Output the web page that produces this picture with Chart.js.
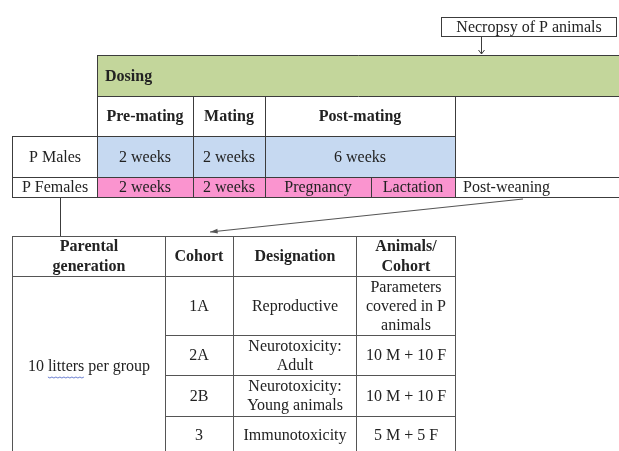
<!DOCTYPE html>
<html>
<head>
<meta charset="utf-8">
<script src="https://cdn.jsdelivr.net/npm/chart.js@4.4.0/dist/chart.umd.min.js"></script>
<style>
  html, body { margin: 0; padding: 0; background: #ffffff; }
  #wrap { width: 619px; height: 451px; }
</style>
</head>
<body>
<div id="wrap"><canvas id="c" width="619" height="451"></canvas></div>
<script>
// ---------- DATA (text content of the study design diagram) ----------
const necropsyLabel = 'Necropsy of P animals';
const dosingLabel = 'Dosing';
const phases = ['Pre-mating', 'Mating', 'Post-mating'];
const groups = ['P Males', 'P Females'];
const maleDurations = ['2 weeks', '2 weeks', '6 weeks'];
const femaleStages = ['2 weeks', '2 weeks', 'Pregnancy', 'Lactation'];
const femaleAfter = 'Post-weaning';
const tableHeaders = [['Parental', 'generation'], ['Cohort'], ['Designation'], ['Animals/', 'Cohort']];
const parentalGeneration = '10 litters per group';
const cohorts = ['1A', '2A', '2B', '3'];
const designations = [['Reproductive'], ['Neurotoxicity:', 'Adult'], ['Neurotoxicity:', 'Young animals'], ['Immunotoxicity']];
const animalsPerCohort = [['Parameters', 'covered in P', 'animals'], ['10 M + 10 F'], ['10 M + 10 F'], ['5 M + 5 F']];

// ---------- LAYOUT (grid units on the chart's linear scales) ----------
const GRID = {
  xLabel: 12, xPre: 97, xMating: 193, xPost: 265, xPreg: 371, xEnd: 455, xRight: 619,
  necX0: 441, necX1: 616, necY0: 17, necY1: 36, necArrowX: 481,
  yDose0: 55, yDose1: 96, yPhase1: 136, yMale1: 177, yFem1: 197,
  tX: [12, 165, 233, 356, 455], tY: [236, 276, 335, 375, 416, 470],
  vLineX: 60, arrowFrom: [523, 199], arrowTo: [210, 232]
};
const COLORS = { green: '#c3d69b', blue: '#c6d9f1', pink: '#fa94cf', line: '#3c3c3c', text: '#222222', grid: '#555555' };
const FONT = '"Liberation Serif", "Times New Roman", serif';

const diagramPlugin = {
  id: 'diagram',
  afterDraw(chart) {
    const ctx = chart.ctx;
    const xs = chart.scales.x, ys = chart.scales.y;
    const X = v => Math.round(xs.getPixelForValue(v));
    const Y = v => Math.round(ys.getPixelForValue(v));
    const G = GRID;

    function rect(x0, y0, x1, y1, fill) {
      ctx.fillStyle = fill;
      ctx.fillRect(X(x0), Y(y0), X(x1) - X(x0), Y(y1) - Y(y0));
    }
    function hline(x0, x1, y, color) {
      ctx.strokeStyle = color || COLORS.line; ctx.lineWidth = 1;
      ctx.beginPath(); ctx.moveTo(X(x0), Y(y) + 0.5); ctx.lineTo(X(x1) + 1, Y(y) + 0.5); ctx.stroke();
    }
    function vline(x, y0, y1, color) {
      ctx.strokeStyle = color || COLORS.line; ctx.lineWidth = 1;
      ctx.beginPath(); ctx.moveTo(X(x) + 0.5, Y(y0)); ctx.lineTo(X(x) + 0.5, Y(y1) + 1); ctx.stroke();
    }
    function text(str, x, y, opts) {
      opts = opts || {};
      ctx.font = (opts.bold ? 'bold ' : '') + (opts.size || 16) + 'px ' + FONT;
      ctx.fillStyle = COLORS.text;
      ctx.textAlign = opts.align || 'center';
      ctx.textBaseline = 'middle';
      ctx.fillText(str, X(x), Y(y) + 1);
    }
    function lines(arr, cx, cy, lh, opts) {
      const start = cy - (arr.length - 1) * lh / 2;
      arr.forEach((s, i) => text(s, cx, start + i * lh, opts));
    }

    ctx.save();
    // Necropsy box + arrow
    ctx.strokeStyle = COLORS.line; ctx.lineWidth = 1;
    ctx.strokeRect(X(G.necX0) + 0.5, Y(G.necY0) + 0.5, X(G.necX1) - X(G.necX0), Y(G.necY1) - Y(G.necY0));
    text(necropsyLabel, (G.necX0 + G.necX1) / 2, (G.necY0 + G.necY1) / 2);
    vline(G.necArrowX, G.necY1 + 1, G.yDose0 - 2);
    ctx.beginPath();
    ctx.moveTo(X(G.necArrowX) + 0.5, Y(G.yDose0 - 1));
    ctx.lineTo(X(G.necArrowX) - 2.5, Y(G.yDose0 - 5));
    ctx.moveTo(X(G.necArrowX) + 0.5, Y(G.yDose0 - 1));
    ctx.lineTo(X(G.necArrowX) + 3.5, Y(G.yDose0 - 5));
    ctx.stroke();

    // Fills
    rect(G.xPre, G.yDose0, G.xRight, G.yDose1, COLORS.green);
    rect(G.xPre, G.yPhase1, G.xEnd, G.yMale1, COLORS.blue);
    rect(G.xPre, G.yMale1, G.xEnd, G.yFem1, COLORS.pink);

    // Grid lines of the schedule
    hline(G.xPre, G.xRight, G.yDose0);
    hline(G.xPre, G.xRight, G.yDose1);
    hline(G.xLabel, G.xEnd, G.yPhase1);
    hline(G.xLabel, G.xRight, G.yMale1);
    hline(G.xLabel, G.xRight, G.yFem1);
    vline(G.xLabel, G.yPhase1, G.yFem1);
    vline(G.xPre, G.yDose0, G.yFem1);
    vline(G.xMating, G.yDose1, G.yFem1);
    vline(G.xPost, G.yDose1, G.yFem1);
    vline(G.xPreg, G.yMale1, G.yFem1);
    vline(G.xEnd, G.yDose1, G.yFem1);

    // Schedule texts
    text(dosingLabel, G.xPre + 8, (G.yDose0 + G.yDose1) / 2, { bold: true, align: 'left' });
    const colX = [G.xPre, G.xMating, G.xPost, G.xEnd];
    phases.forEach((p, i) => text(p, (colX[i] + colX[i + 1]) / 2, (G.yDose1 + G.yPhase1) / 2, { bold: true }));
    maleDurations.forEach((p, i) => text(p, (colX[i] + colX[i + 1]) / 2, (G.yPhase1 + G.yMale1) / 2));
    const femX = [G.xPre, G.xMating, G.xPost, G.xPreg, G.xEnd];
    femaleStages.forEach((p, i) => text(p, (femX[i] + femX[i + 1]) / 2, (G.yMale1 + G.yFem1) / 2));
    text(femaleAfter, G.xEnd + 8, (G.yMale1 + G.yFem1) / 2, { align: 'left' });
    text(groups[0], (G.xLabel + G.xPre) / 2, (G.yPhase1 + G.yMale1) / 2);
    text(groups[1], (G.xLabel + G.xPre) / 2, (G.yMale1 + G.yFem1) / 2);

    // Connector lines
    vline(G.vLineX, G.yFem1 + 1, G.tY[0]);
    ctx.strokeStyle = '#555'; ctx.lineWidth = 1.2;
    const a0 = [X(G.arrowFrom[0]), Y(G.arrowFrom[1])], a1 = [X(G.arrowTo[0]), Y(G.arrowTo[1])];
    ctx.beginPath(); ctx.moveTo(a0[0], a0[1]); ctx.lineTo(a1[0], a1[1]); ctx.stroke();
    const ang = Math.atan2(a0[1] - a1[1], a0[0] - a1[0]);
    ctx.fillStyle = '#555';
    ctx.beginPath();
    ctx.moveTo(a1[0], a1[1]);
    ctx.lineTo(a1[0] + 8 * Math.cos(ang - 0.3), a1[1] + 8 * Math.sin(ang - 0.3));
    ctx.lineTo(a1[0] + 8 * Math.cos(ang + 0.3), a1[1] + 8 * Math.sin(ang + 0.3));
    ctx.closePath(); ctx.fill();

    // Table
    const tX = G.tX, tY = G.tY;
    hline(tX[0], tX[4], tY[0], COLORS.grid);
    hline(tX[0], tX[4], tY[1], COLORS.grid);
    for (let r = 2; r < tY.length - 1; r++) hline(tX[1], tX[4], tY[r], COLORS.grid);
    tX.forEach(x => vline(x, tY[0], tY[tY.length - 1], COLORS.grid));
    tableHeaders.forEach((h, i) => lines(h, (tX[i] + tX[i + 1]) / 2, (tY[0] + tY[1]) / 2, 20, { bold: true }));
    const pgY = (tY[1] + 451) / 2 + 2;
    text(parentalGeneration, (tX[0] + tX[1]) / 2, pgY);
    // spell-check style underline under "litters"
    ctx.font = '16px ' + FONT;
    const full = ctx.measureText(parentalGeneration).width;
    const pre = ctx.measureText('10 ').width;
    const w = ctx.measureText('litters').width;
    const sx = X((tX[0] + tX[1]) / 2) - full / 2 + pre;
    const sy = Y(pgY) + 11;
    ctx.strokeStyle = '#6a7fd0'; ctx.lineWidth = 1;
    ctx.beginPath();
    for (let k = 0; k <= w; k += 2) { const yy = sy + ((k / 2) % 2 ? 1 : 0); k === 0 ? ctx.moveTo(sx + k, yy) : ctx.lineTo(sx + k, yy); }
    ctx.stroke();

    const rowCY = [(tY[1] + tY[2]) / 2, (tY[2] + tY[3]) / 2, (tY[3] + tY[4]) / 2, (tY[4] + 451) / 2 + 1];
    cohorts.forEach((c, i) => text(c, (tX[1] + tX[2]) / 2, rowCY[i]));
    designations.forEach((d, i) => lines(d, (tX[2] + tX[3]) / 2, rowCY[i], 19));
    animalsPerCohort.forEach((d, i) => lines(d, (tX[3] + tX[4]) / 2, rowCY[i], 19));
    ctx.restore();
  }
};

new Chart(document.getElementById('c'), {
  type: 'scatter',
  data: { datasets: [{ data: [], showLine: false }] },
  options: {
    responsive: false,
    animation: false,
    events: [],
    layout: { padding: 0 },
    plugins: { legend: { display: false }, tooltip: { enabled: false }, title: { display: false } },
    scales: {
      x: { type: 'linear', min: 0, max: 619, display: false },
      y: { type: 'linear', min: 0, max: 451, reverse: true, display: false }
    }
  },
  plugins: [diagramPlugin]
});
</script>
</body>
</html>
